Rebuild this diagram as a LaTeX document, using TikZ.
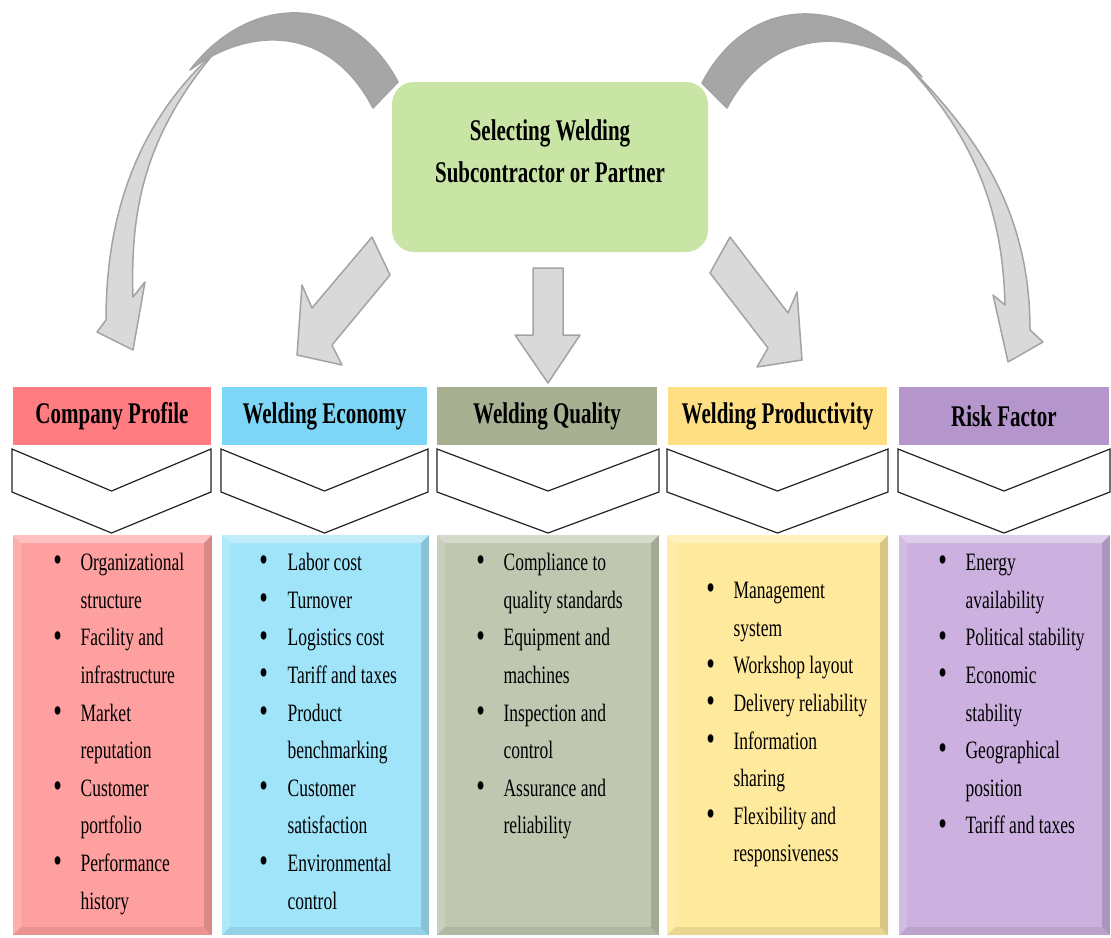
\documentclass[tikz,border=0pt]{standalone}
\usepackage{fontspec}
\setmainfont{Liberation Serif}[FakeStretch=0.7]
\usetikzlibrary{fit}

\definecolor{selfill}{HTML}{C9E5A6}
\definecolor{cphead}{HTML}{FF7C80}
\definecolor{cpbody}{HTML}{FFA0A0}
\definecolor{echead}{HTML}{7DD6F5}
\definecolor{ecbody}{HTML}{A0E4FA}
\definecolor{qlhead}{HTML}{A8B092}
\definecolor{qlbody}{HTML}{BFC7B0}
\definecolor{prhead}{HTML}{FFDF84}
\definecolor{prbody}{HTML}{FFE99C}
\definecolor{rkhead}{HTML}{B496CD}
\definecolor{rkbody}{HTML}{CCB1E0}
\definecolor{arrowlight}{HTML}{D9D9D9}
\definecolor{arrowdark}{HTML}{A6A6A6}
\definecolor{arrowline}{HTML}{A3A3A3}
\definecolor{chevline}{HTML}{222222}

\newcommand{\listfont}{\fontsize{12.5}{18.8}\selectfont}
\newcommand{\headfont}{\fontsize{15}{21}\selectfont\bfseries}
\newcommand{\bul}{\raisebox{-0.1ex}{\scalebox{1.4}{\textbullet}}}

\begin{document}
\begin{tikzpicture}[x=0.5pt,y=-0.5pt]
  \tikzset{head/.style = {inner sep=0pt, fill=#1, font=\headfont, minimum height=29pt}}
  \tikzset{body/.style = {inner sep=0pt, fill=#1, path picture={
      \fill[white,opacity=.35] (path picture bounding box.north west) -- (path picture bounding box.north east)
        -- ([xshift=-4pt,yshift=-4pt]path picture bounding box.north east) -- ([xshift=4pt,yshift=-4pt]path picture bounding box.north west) -- cycle;
      \fill[white,opacity=.15] (path picture bounding box.north west) -- (path picture bounding box.south west)
        -- ([xshift=4pt,yshift=4pt]path picture bounding box.south west) -- ([xshift=4pt,yshift=-4pt]path picture bounding box.north west) -- cycle;
      \fill[black,opacity=.15] (path picture bounding box.north east) -- (path picture bounding box.south east)
        -- ([xshift=-4pt,yshift=4pt]path picture bounding box.south east) -- ([xshift=-4pt,yshift=-4pt]path picture bounding box.north east) -- cycle;
      \fill[black,opacity=.08] (path picture bounding box.south west) -- (path picture bounding box.south east)
        -- ([xshift=-4pt,yshift=4pt]path picture bounding box.south east) -- ([xshift=4pt,yshift=4pt]path picture bounding box.south west) -- cycle;
    }}}
  \tikzset{list/.style = {anchor=north west, inner sep=0pt, font=\listfont}}
  \tikzset{chev/.style = {draw=chevline, fill=white, line width=0.6pt, line join=miter}}
  \tikzset{blockarrow/.style = {draw=arrowline, fill=arrowlight, line width=0.75pt, line join=round}}
  \tikzset{backband/.style = {draw=arrowline, fill=arrowdark, line width=0.75pt, line join=round}}

  \useasboundingbox (0,0) rectangle (1111,937);

  % curved arrows, back band first
  \draw[backband] (398,82) .. controls (350,-8) and (250,-8) .. (190,70)
    .. controls (250,25) and (330,25) .. (373,108) -- cycle;
  \draw[blockarrow] (215,52) .. controls (140,120) and (106,210) .. (106,320)
    -- (97,332) -- (133,350) -- (145,282) -- (133,297)
    .. controls (130,210) and (145,135) .. (215,52) -- cycle;

  \draw[backband] (702,83) .. controls (750,-8) and (850,-8) .. (922,77)
    .. controls (860,25) and (770,25) .. (727,108) -- cycle;
  \draw[blockarrow] (900,58) .. controls (985,140) and (1030,220) .. (1030,330)
    -- (1043,342) -- (1008,362) -- (993,295) -- (1005,305)
    .. controls (1003,220) and (980,140) .. (900,58) -- cycle;

  % straight arrows
  \draw[blockarrow] (372,237) -- (390,275) -- (332,345) -- (342,365) -- (297,355)
    -- (302,285) -- (312,308) -- cycle;
  \draw[blockarrow] (533,268) -- (563,268) -- (563,335) -- (580,335) -- (548,383)
    -- (515,335) -- (533,335) -- cycle;
  \draw[blockarrow] (730,237) -- (710,273) -- (768,348) -- (757,367) -- (802,360)
    -- (797,292) -- (788,313) -- cycle;

  % main box
  \node[fill=selfill, rounded corners=11pt, inner sep=0pt, fit={(392,82) (708,252)}] (sel) {};
  \node[align=center, inner sep=0pt, font=\headfont] (seltext) at (550,151)
    {Selecting Welding\\Subcontractor or Partner};

  % headings
  \node[head=cphead, minimum width=99pt] (cp) at (112,416) {Company Profile};
  \node[head=echead, minimum width=102.5pt] (ec) at (324.5,416) {Welding Economy};
  \node[head=qlhead, minimum width=110pt] (ql) at (547,416) {Welding Quality};
  \node[head=prhead, minimum width=109.5pt] (pr) at (777.5,416) {Welding Productivity};
  \node[head=rkhead, minimum width=105pt] (rk) at (1004,416) {Risk Factor};

  \foreach \l/\r in {12/211, 221/428, 437/659, 667/888, 898/1110}
    \draw[chev] (\l,449) -- ({(\l+\r)/2},491) -- (\r,449) -- (\r,492)
      -- ({(\l+\r)/2},533) -- (\l,492) -- cycle;

  % lists
  \node[body=cpbody, fit={(13,535) (212,935)}] (cpb) {};
  \node[body=ecbody, fit={(222,535) (429,935)}] (ecb) {};
  \node[body=qlbody, fit={(437,535) (659,935)}] (qlb) {};
  \node[body=prbody, fit={(667,535) (888,935)}] (prb) {};
  \node[body=rkbody, fit={(899,535) (1110,935)}] (rkb) {};

  \node[list] (cpl) at (53,544) {\begin{tabular}{@{}l@{\hspace{9.3pt}}l@{}}
    \bul & Organizational\\ & structure\\
    \bul & Facility and\\ & infrastructure\\
    \bul & Market\\ & reputation\\
    \bul & Customer\\ & portfolio\\
    \bul & Performance\\ & history
  \end{tabular}};
  \node[list] (ecl) at (259,544) {\begin{tabular}{@{}l@{\hspace{9.8pt}}l@{}}
    \bul & Labor cost\\
    \bul & Turnover\\
    \bul & Logistics cost\\
    \bul & Tariff and taxes\\
    \bul & Product\\ & benchmarking\\
    \bul & Customer\\ & satisfaction\\
    \bul & Environmental\\ & control
  \end{tabular}};
  \node[list] (qll) at (476,544) {\begin{tabular}{@{}l@{\hspace{9.3pt}}l@{}}
    \bul & Compliance to\\ & quality standards\\
    \bul & Equipment and\\ & machines\\
    \bul & Inspection and\\ & control\\
    \bul & Assurance and\\ & reliability
  \end{tabular}};
  \node[list] (prl) at (706,572) {\begin{tabular}{@{}l@{\hspace{9.3pt}}l@{}}
    \bul & Management\\ & system\\
    \bul & Workshop layout\\
    \bul & Delivery reliability\\
    \bul & Information\\ & sharing\\
    \bul & Flexibility and\\ & responsiveness
  \end{tabular}};
  \node[list] (rkl) at (938,544) {\begin{tabular}{@{}l@{\hspace{9.3pt}}l@{}}
    \bul & Energy\\ & availability\\
    \bul & Political stability\\
    \bul & Economic\\ & stability\\
    \bul & Geographical\\ & position\\
    \bul & Tariff and taxes
  \end{tabular}};
\end{tikzpicture}
\end{document}
